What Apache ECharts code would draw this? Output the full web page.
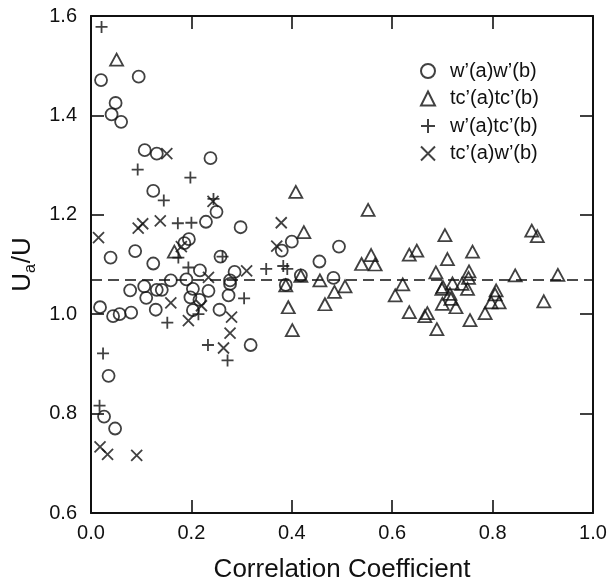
<!DOCTYPE html>
<html>
<head>
<meta charset="utf-8">
<script src="https://cdn.jsdelivr.net/npm/echarts@6/dist/echarts.min.js"></script>
<style>
html,body{margin:0;padding:0;background:#fff;}
#chart{width:611px;height:588px;}
</style>
</head>
<body>
<div id="chart"></div>
<script>
// ---- data ----
const seriesNames = ["w\u2019(a)w\u2019(b)", "tc\u2019(a)tc\u2019(b)", "w\u2019(a)tc\u2019(b)", "tc\u2019(a)w\u2019(b)"];
const xTicks = [0, 0.2, 0.4, 0.6, 0.8, 1.0];
const yTicks = [0.6, 0.8, 1.0, 1.2, 1.4, 1.6];
const referenceLevel = 1.07;

const wwPoints = [
  [0.020,1.471],[0.095,1.478],[0.049,1.425],[0.041,1.402],[0.060,1.387],[0.107,1.330],[0.131,1.323],
  [0.238,1.314],[0.124,1.248],[0.250,1.206],[0.229,1.186],[0.298,1.175],[0.195,1.151],[0.186,1.143],
  [0.400,1.146],[0.494,1.136],[0.088,1.127],[0.380,1.128],[0.039,1.114],[0.258,1.116],[0.124,1.102],
  [0.455,1.106],[0.217,1.088],[0.286,1.085],[0.418,1.078],[0.159,1.068],[0.190,1.070],[0.483,1.073],
  [0.277,1.068],[0.277,1.061],[0.106,1.056],[0.078,1.048],[0.131,1.049],[0.141,1.049],[0.203,1.051],
  [0.234,1.047],[0.388,1.059],[0.110,1.033],[0.198,1.034],[0.274,1.038],[0.216,1.029],[0.018,1.014],
  [0.129,1.009],[0.203,1.008],[0.256,1.009],[0.044,0.996],[0.057,1.000],[0.080,1.003],[0.318,0.938],
  [0.035,0.876],[0.026,0.794],[0.048,0.770]
];
const tctcPoints = [
  [0.051,1.512],[0.408,1.246],[0.552,1.210],[0.424,1.165],[0.705,1.159],[0.878,1.168],[0.889,1.157],
  [0.166,1.126],[0.649,1.128],[0.634,1.120],[0.558,1.119],[0.760,1.126],[0.710,1.111],[0.539,1.101],
  [0.566,1.100],[0.753,1.086],[0.687,1.084],[0.845,1.078],[0.930,1.079],[0.418,1.077],[0.456,1.068],
  [0.621,1.060],[0.720,1.062],[0.739,1.061],[0.752,1.073],[0.388,1.058],[0.506,1.056],[0.699,1.051],
  [0.701,1.055],[0.750,1.051],[0.807,1.048],[0.485,1.045],[0.805,1.040],[0.606,1.038],[0.715,1.041],
  [0.717,1.031],[0.797,1.024],[0.813,1.024],[0.902,1.026],[0.466,1.020],[0.700,1.021],[0.727,1.014],
  [0.393,1.014],[0.634,1.004],[0.785,1.002],[0.665,0.996],[0.670,1.002],[0.755,0.988],[0.401,0.968],
  [0.689,0.970]
];
const wtcPoints = [
  [0.021,1.578],[0.093,1.291],[0.198,1.275],[0.145,1.229],[0.244,1.232],[0.173,1.183],[0.200,1.184],
  [0.174,1.114],[0.262,1.116],[0.194,1.094],[0.349,1.091],[0.383,1.097],[0.391,1.091],[0.305,1.032],
  [0.214,1.000],[0.152,0.983],[0.233,0.938],[0.272,0.907],[0.024,0.921],[0.017,0.816]
];
const tcwPoints = [
  [0.151,1.323],[0.015,1.154],[0.094,1.173],[0.103,1.182],[0.138,1.188],[0.379,1.184],[0.243,1.227],
  [0.370,1.137],[0.180,1.136],[0.234,1.074],[0.310,1.087],[0.159,1.023],[0.220,1.017],[0.194,0.987],
  [0.280,0.994],[0.277,0.962],[0.264,0.932],[0.018,0.733],[0.033,0.718],[0.091,0.716]
];

// ---- chart ----
const INK = '#111111';
const FONT = 'Liberation Sans, Arial, sans-serif';
const chart = echarts.init(document.getElementById('chart'), null, {renderer: 'canvas'});

const markerStyle = {color: 'rgba(0,0,0,0)', borderColor: INK, borderWidth: 1.8};
const PLUS = 'path://M6,0L6,12M0,6L12,6';
const CROSS = 'path://M0,0L10,10M0,10L10,0';

function baseAxis(extra) {
  return Object.assign({
    axisLine: {show: true, onZero: false, lineStyle: {color: INK, width: 2}},
    axisTick: {show: true, inside: true, length: 13, lineStyle: {color: INK, width: 1.6}},
    splitLine: {show: false}
  }, extra);
}

const option = {
  animation: false,
  backgroundColor: '#fff',
  textStyle: {fontFamily: FONT},
  grid: {left: 91, top: 16, width: 502, height: 502, containLabel: false},
  legend: {
    orient: 'vertical',
    left: 415,
    top: 56,
    itemWidth: 14,
    itemHeight: 14,
    itemGap: 7.5,
    selectedMode: false,
    data: seriesNames,
    textStyle: {fontSize: 20, lineHeight: 20, color: INK, fontFamily: FONT, padding: [0, 0, 0, 10]}
  },
  xAxis: [
    baseAxis({
      type: 'value', min: xTicks[0], max: xTicks[xTicks.length - 1], interval: 0.2, position: 'bottom',
      axisLabel: {show: true, fontSize: 20, color: INK, margin: 10, formatter: v => v.toFixed(1)},
      name: 'Correlation Coefficient', nameLocation: 'middle', nameGap: 44,
      nameTextStyle: {fontSize: 26, color: INK}
    }),
    baseAxis({
      type: 'value', min: xTicks[0], max: xTicks[xTicks.length - 1], interval: 0.2, position: 'top',
      axisLabel: {show: false}
    })
  ],
  yAxis: [
    baseAxis({
      type: 'value', min: yTicks[0], max: yTicks[yTicks.length - 1], interval: 0.2, position: 'left',
      axisLabel: {show: true, fontSize: 20, color: INK, margin: 14, formatter: v => v.toFixed(1)},
      name: '{m|U}{s|a}{m|/U}', nameLocation: 'middle', nameGap: 43, nameRotate: 90,
      nameTextStyle: {
        color: INK,
        rich: {
          m: {fontSize: 26, color: INK, fontFamily: FONT, lineHeight: 30},
          s: {fontSize: 16, color: INK, fontFamily: FONT, lineHeight: 30, verticalAlign: 'bottom', padding: [14, 1, 0, 0]}
        }
      }
    }),
    baseAxis({
      type: 'value', min: yTicks[0], max: yTicks[yTicks.length - 1], interval: 0.2, position: 'right',
      axisLabel: {show: false}
    })
  ],
  series: [
    {
      name: seriesNames[0], type: 'scatter', data: wwPoints, symbol: 'circle', symbolSize: 12,
      itemStyle: markerStyle, emphasis: {disabled: true}, silent: true,
      markLine: {
        silent: true, symbol: 'none', label: {show: false},
        lineStyle: {color: INK, width: 1.6, type: [11, 6]},
        data: [{yAxis: referenceLevel}]
      }
    },
    {
      name: seriesNames[1], type: 'scatter', data: tctcPoints, symbol: 'triangle', symbolSize: [13, 12],
      itemStyle: markerStyle, emphasis: {disabled: true}, silent: true
    },
    {
      name: seriesNames[2], type: 'scatter', data: wtcPoints, symbol: PLUS, symbolSize: 12,
      itemStyle: markerStyle, emphasis: {disabled: true}, silent: true
    },
    {
      name: seriesNames[3], type: 'scatter', data: tcwPoints, symbol: CROSS, symbolSize: 11,
      itemStyle: markerStyle, emphasis: {disabled: true}, silent: true
    }
  ]
};
chart.setOption(option);
</script>
</body>
</html>
